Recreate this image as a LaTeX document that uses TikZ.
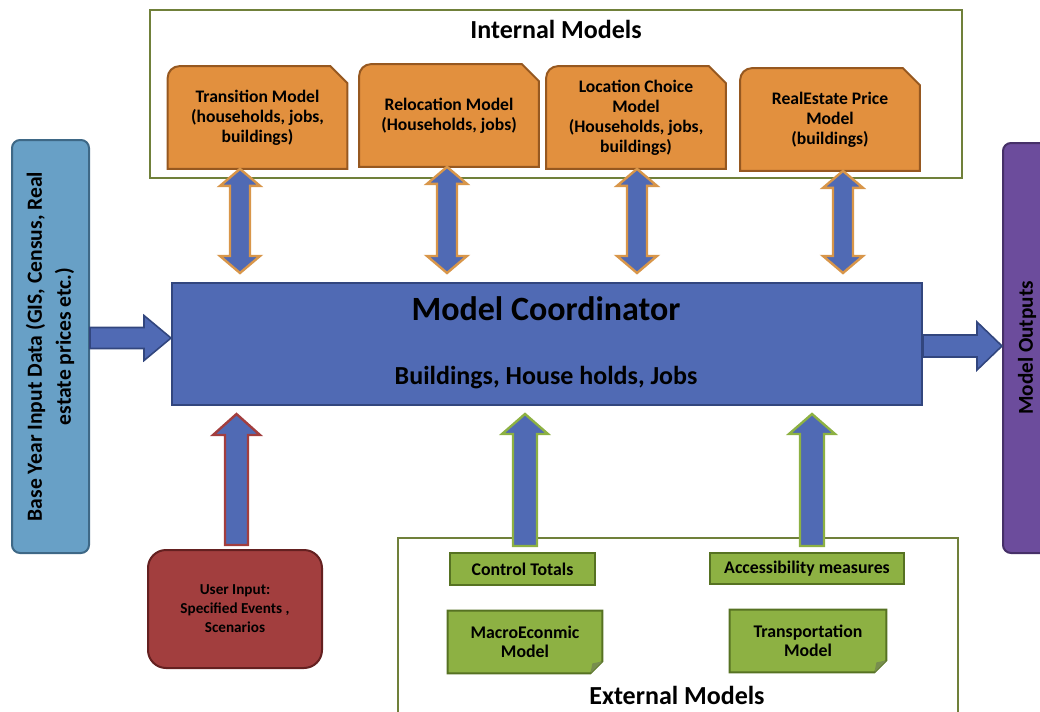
\documentclass[tikz,border=0pt]{standalone}
\usepackage{fontspec}
\setmainfont{Carlito}
\usetikzlibrary{calc,backgrounds}

\definecolor{modelorange}{RGB}{226,144,62}
\definecolor{modelbrown}{RGB}{150,88,32}
\definecolor{frameolive}{RGB}{112,128,58}
\definecolor{coordblue}{RGB}{80,106,180}
\definecolor{coordedge}{RGB}{50,70,126}
\definecolor{inputblue}{RGB}{104,160,198}
\definecolor{inputedge}{RGB}{62,104,134}
\definecolor{outpurple}{RGB}{108,76,156}
\definecolor{outedge}{RGB}{70,48,104}
\definecolor{userred}{RGB}{162,62,62}
\definecolor{useredge}{RGB}{100,32,32}
\definecolor{extgreen}{RGB}{141,177,67}
\definecolor{extedge}{RGB}{86,114,34}
\definecolor{arroworange}{RGB}{216,150,74}

\tikzset{
  groupframe/.style={draw=frameolive, line width=1pt, inner sep=0pt},
  grouptitle/.style={font=\bfseries\fontsize{13}{15}\selectfont},
  modelbox/.style={minimum width=89.5pt, minimum height=51pt, align=center,
    font=\bfseries\fontsize{8.8}{10}\selectfont},
  modelshape/.style={fill=modelorange, draw=modelbrown, line width=1pt},
  coordbox/.style={fill=coordblue, draw=coordedge, line width=1pt,
    minimum width=375pt, minimum height=61pt},
  inputbox/.style={fill=inputblue, draw=inputedge, line width=1pt, rounded corners=4pt,
    minimum width=38.5pt, minimum height=206.5pt, inner sep=0pt,
    font=\bfseries\fontsize{10.8}{14.5}\selectfont},
  outputbox/.style={fill=outpurple, draw=outedge, line width=1pt, rounded corners=4pt,
    minimum width=24pt, minimum height=205pt, inner sep=0pt,
    font=\bfseries\fontsize{10.6}{12}\selectfont},
  userbox/.style={fill=userred, draw=useredge, line width=1pt, rounded corners=9pt,
    minimum width=87pt, minimum height=59pt, align=center,
    font=\bfseries\fontsize{7.6}{9.5}\selectfont},
  extbox/.style={fill=extgreen, draw=extedge, line width=1pt, inner sep=0pt,
    font=\bfseries\fontsize{8.9}{9.5}\selectfont},
  notebox/.style={align=center, inner sep=0pt, minimum height=31pt,
    font=\bfseries\fontsize{8.9}{9.5}\selectfont},
  noteshape/.style={fill=extgreen, draw=extedge, line width=1pt},
  bigarrow/.style={fill=coordblue, draw=coordedge, line width=0.8pt},
  linkarrow/.style={fill=coordblue, draw=arroworange, line width=1.2pt},
  userarrow/.style={fill=coordblue, draw=userred, line width=1.2pt},
  extarrow/.style={fill=coordblue, draw=extgreen, line width=1.2pt}
}

% block arrow from #2 to #3: shaft half width #4, head half width #5, head length #6
\newcommand{\fatarrow}[6][]{%
  \coordinate (faA) at (#2);
  \coordinate (faB) at (#3);
  \coordinate (faC) at ($(faB)!#6!(faA)$);
  \draw[#1] ($(faA)!#4!90:(faB)$) -- ($(faC)!#4!90:(faB)$) -- ($(faC)!#5!90:(faB)$)
    -- (faB) -- ($(faC)!#5!-90:(faB)$) -- ($(faC)!#4!-90:(faB)$)
    -- ($(faA)!#4!-90:(faB)$) -- cycle;
}
% same, with a head at both ends
\newcommand{\fatboth}[6][]{%
  \coordinate (faA) at (#2);
  \coordinate (faB) at (#3);
  \coordinate (faC) at ($(faB)!#6!(faA)$);
  \coordinate (faD) at ($(faA)!#6!(faB)$);
  \draw[#1] (faA) -- ($(faD)!#5!90:(faB)$) -- ($(faD)!#4!90:(faB)$)
    -- ($(faC)!#4!90:(faB)$) -- ($(faC)!#5!90:(faB)$)
    -- (faB) -- ($(faC)!#5!-90:(faB)$) -- ($(faC)!#4!-90:(faB)$)
    -- ($(faD)!#4!-90:(faB)$) -- ($(faD)!#5!-90:(faB)$) -- cycle;
}

\begin{document}
\begin{tikzpicture}[x=0.5pt, y=-0.5pt]
  \useasboundingbox (0,0) rectangle (1040,712);

  % internal models
  \node[groupframe, minimum width=406pt, minimum height=84pt] (intframe) at (556,94) {};
  \node[grouptitle] (inttitle) at (556,29) {Internal Models};
  \node[modelbox] (trans) at (257.5,117.5) {Transition Model\\(households, jobs,\\buildings)};
  \node[modelbox] (reloc) at (449,115.5) {Relocation Model\\(Households, jobs)};
  \node[modelbox] (locch) at (636,117.5) {Location Choice\\Model\\(Households, jobs,\\buildings)};
  \node[modelbox] (price) at (830,119.5) {RealEstate Price\\Model\\(buildings)};

  % coordinator, inputs and outputs
  \node[coordbox] (coord) at (547,344) {};
  \node[font=\bfseries\fontsize{17}{20}\selectfont] (coordtitle) at (546,309) {Model Coordinator};
  \node[font=\bfseries\fontsize{13}{15}\selectfont] (coordsub) at (546,378) {Buildings, House holds, Jobs};
  \node[inputbox] (basein) at (50.5,346.5)
    {\rotatebox{90}{\begin{tabular}{@{}c@{}}Base Year Input Data (GIS, Census, Real\\estate prices etc.)\end{tabular}}};
  \node[outputbox] (output) at (1027,348) {\rotatebox{90}{Model Outputs}};
  \node[userbox] (user) at (235,609) {User Input:\\Specified Events ,\\Scenarios};

  % external models
  \node[groupframe, minimum width=280pt, minimum height=102pt] (extframe) at (678,640) {};
  \node[grouptitle] (exttitle) at (677,695) {External Models};
  \node[extbox, minimum width=72.5pt, minimum height=16pt] (ctrl) at (522.5,569) {Control Totals};
  \node[extbox, minimum width=97pt, minimum height=15.5pt] (access) at (807,568.5) {Accessibility measures};
  \node[notebox, minimum width=77pt] (macro) at (525,642) {MacroEconmic\\Model};
  \node[notebox, minimum width=78pt] (transp) at (808,641) {Transportation\\Model};

  \begin{scope}[on background layer]
    % snipped and rounded model boxes
    \foreach \n in {trans,reloc,locch,price}
      \draw[modelshape] (\n.south west) -- ([yshift=-6pt]\n.north west)
        arc[start angle=180, end angle=90, radius=6pt] -- ([xshift=-8.5pt]\n.north east)
        -- ([yshift=-8.5pt]\n.north east) -- (\n.south east) -- cycle;
    % folded notes
    \foreach \n in {macro,transp} {
      \draw[noteshape] (\n.south west) -- (\n.north west) -- (\n.north east)
        -- ([yshift=6pt]\n.south east) -- ([xshift=-6pt]\n.south east) -- cycle;
      \fill[extedge!80] ([xshift=-6pt]\n.south east) -- ([yshift=6pt]\n.south east)
        -- ([xshift=-5pt, yshift=5pt]\n.south east) -- cycle;
    }
  \end{scope}

  % arrows
  \fatarrow[bigarrow]{basein.east |- 0,338}{coord.west |- 0,338}{5.25pt}{11.25pt}{13.5pt}
  \fatarrow[bigarrow]{coord.east |- 0,346}{output.west |- 0,346}{5.5pt}{12pt}{12.5pt}
  \foreach \x/\n in {240/trans, 447/reloc, 637/locch, 843/price} {
    \fatboth[linkarrow]{\x,0 |- \n.south}{$(\x,0 |- coord.north)+(0,-9)$}{5pt}{10pt}{8.5pt}
  }
  \fatarrow[userarrow]{$(user.north)+(1.5,-4)$}{$(user.north |- coord.south)+(1.5,8)$}{5.75pt}{11.75pt}{10.5pt}
  \fatarrow[extarrow]{$(ctrl.north)+(2.5,-6)$}{$(ctrl.north |- coord.south)+(2.5,8)$}{6pt}{11.5pt}{10pt}
  \fatarrow[extarrow]{$(access.north)+(5,-6)$}{$(access.north |- coord.south)+(5,8)$}{6pt}{11.5pt}{10pt}
\end{tikzpicture}
\end{document}
